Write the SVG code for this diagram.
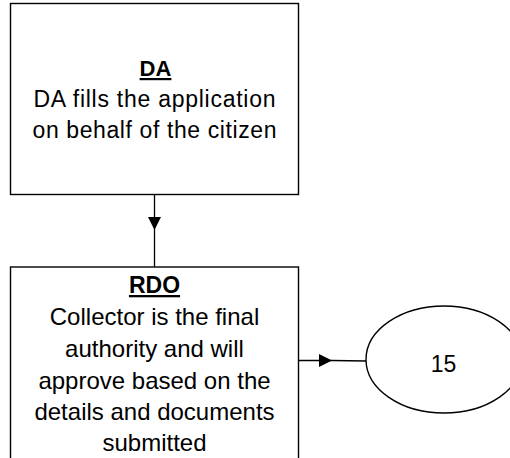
<svg xmlns="http://www.w3.org/2000/svg" width="510" height="458" viewBox="0 0 510 458">
<style>
.box{fill:#fff;stroke:#000;stroke-width:1.4}
.t{font-family:"Liberation Sans",Arial,sans-serif;fill:#000;text-anchor:middle}
.da{font-size:23px}
.rdo{font-size:24px}
.h{font-weight:bold;text-decoration:underline}
.edge{stroke:#000;stroke-width:1.3;fill:none}
</style>
<defs>
<marker id="arr" viewBox="0 0 10 10" refX="10" refY="5" markerWidth="15" markerHeight="13" markerUnits="userSpaceOnUse" orient="auto">
<path d="M0,0 L10,5 L0,10 Z" fill="#000"/>
</marker>
</defs>
<g id="connectors">
<line class="edge" x1="154.5" y1="194.5" x2="154.5" y2="230" marker-end="url(#arr)"/>
<line class="edge" x1="154.5" y1="230" x2="154.5" y2="267"/>
<line class="edge" x1="298.5" y1="360.5" x2="332" y2="360.5" marker-end="url(#arr)"/>
<line class="edge" x1="332" y1="360.5" x2="366" y2="361" stroke-width="1"/>
</g>
<g id="da">
<rect class="box" x="10.5" y="3.5" width="288" height="191"/>
<text class="t h" x="155.5" y="76" font-size="22">DA</text>
<text class="t da" x="154.5" y="107" textLength="242">DA fills the application</text>
<text class="t da" x="154.5" y="138" textLength="244">on behalf of the citizen</text>
</g>
<g id="rdo">
<rect class="box" x="10.5" y="267" width="288" height="200"/>
<text class="t h" x="154.5" y="293" font-size="23">RDO</text>
<text class="t rdo" x="154.5" y="325">Collector is the final</text>
<text class="t rdo" x="154.5" y="357">authority and will</text>
<text class="t rdo" x="154.5" y="389">approve based on the</text>
<text class="t rdo" x="154.5" y="420">details and documents</text>
<text class="t rdo" x="154.5" y="451">submitted</text>
</g>
<g id="n15">
<ellipse class="box" cx="444" cy="359.5" rx="78" ry="53.5" stroke-width="1"/>
<text class="t" x="443.5" y="371.5" font-size="23">15</text>
</g>
</svg>
